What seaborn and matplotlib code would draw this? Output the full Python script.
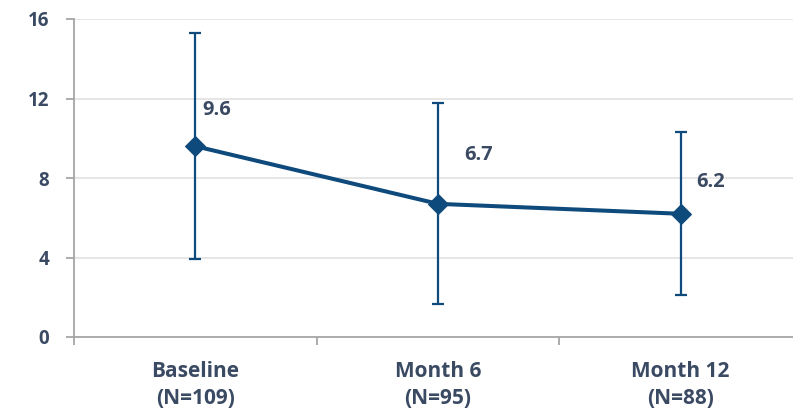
import matplotlib
matplotlib.use("Agg")
import matplotlib.pyplot as plt
import seaborn as sns
import pandas as pd
import numpy as np

# Mean score with SD at each visit
visits = ["Baseline\n(N=109)", "Month 6\n(N=95)", "Month 12\n(N=88)"]
means = [9.6, 6.7, 6.2]
sds = [5.7, 5.05, 4.1]
yticks = [0, 4, 8, 12, 16]

LINE = "#0E4A7B"
TEXT = "#3B4A63"
GRID = "#E4E4E4"
SPINE = "#A6A6A6"

sns.set_theme(style="white")
plt.rcParams["font.family"] = ["Open Sans", "DejaVu Sans"]
plt.rcParams["font.weight"] = "bold"

df = pd.DataFrame({"pos": np.arange(len(visits)), "mean": means, "sd": sds})

fig = plt.figure(figsize=(7.93, 4.09), dpi=100)
ax = fig.add_axes([74 / 793, 1 - 337 / 409, (802 - 74) / 793, (337 - 19) / 409])

ax.errorbar(df["pos"], df["mean"], yerr=df["sd"], fmt="none", ecolor=LINE,
            elinewidth=1.6, capsize=4.5, capthick=1.6, zorder=2)
sns.lineplot(data=df, x="pos", y="mean", ax=ax, color=LINE, linewidth=2.9,
             marker="D", markersize=10, markeredgecolor=LINE, zorder=3)

# value labels beside each point
label_offsets = [(5, 26), (19, 35), (11, 23)]
for x, m, (dx, dy) in zip(df["pos"], df["mean"], label_offsets):
    ax.annotate(f"{m:.1f}", (x, m), xytext=(dx, dy), textcoords="offset points",
                ha="left", va="center", fontsize=14.5, fontweight="bold", color=TEXT)

ax.set_xlim(-0.5, 2.5)
ax.set_ylim(0, 16)
ax.set_yticks(yticks)
ax.set_yticklabels([str(t) for t in yticks])
ax.set_xticks(df["pos"])
ax.set_xticklabels(visits, linespacing=1.42)
ax.set_xticks([-0.5, 0.5, 1.5, 2.5], minor=True)

ax.grid(axis="y", color=GRID, linewidth=1.3)
ax.set_axisbelow(True)
for s in ["top", "right"]:
    ax.spines[s].set_visible(False)
for s in ["left", "bottom"]:
    ax.spines[s].set_color(SPINE)
    ax.spines[s].set_linewidth(1.3)

ax.tick_params(axis="y", which="major", length=6, width=1.3, color=SPINE,
               labelsize=13.5, labelcolor=TEXT, pad=12, left=True)
ax.tick_params(axis="x", which="major", length=0, labelsize=15, labelcolor=TEXT, pad=17)
ax.tick_params(axis="x", which="minor", length=6, width=1.3, color=SPINE, bottom=True)
for lab in ax.get_xticklabels() + ax.get_yticklabels():
    lab.set_fontweight("bold")
ax.set_xlabel("")
ax.set_ylabel("")

fig.savefig("out.png", dpi=100)
